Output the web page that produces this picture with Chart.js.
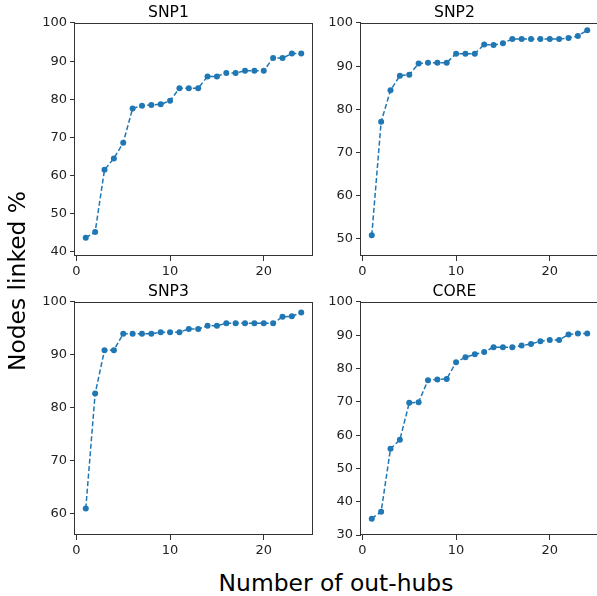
<!DOCTYPE html>
<html>
<head>
<meta charset="utf-8">
<script src="https://cdn.jsdelivr.net/npm/chart.js@4/dist/chart.umd.min.js"></script>
<style>
  html, body { margin:0; padding:0; background:#fff; }
  body { width:597px; height:596px; position:relative; overflow:hidden; font-family:'DejaVu Sans', sans-serif; color:#000; }
  canvas { position:absolute; }
  .ylab { position:absolute; width:300px; height:24px; line-height:24px; font-size:23.4px; text-align:center; white-space:nowrap;
          left:calc(16.7px - 150px); top:calc(280.5px - 12px); transform:rotate(-90deg); }
  .xlab { position:absolute; width:300px; line-height:24px; font-size:23.4px; text-align:center; white-space:nowrap; left:186px; top:571px; }
</style>
</head>
<body>
<canvas id="c-snp1" width="292" height="288"></canvas>
<canvas id="c-snp2" width="292" height="288"></canvas>
<canvas id="c-snp3" width="292" height="288"></canvas>
<canvas id="c-core" width="292" height="288"></canvas>
<div class="ylab">Nodes linked %</div>
<div class="xlab">Number of out-hubs</div>
<script>
'use strict';

// x positions (number of out-hubs)
const outHubs = [1,2,3,4,5,6,7,8,9,10,11,12,13,14,15,16,17,18,19,20,21,22,23,24];

// % of nodes linked
const snp1 = [43.7,45.2,61.5,64.5,68.6,77.6,78.3,78.5,78.7,79.6,82.9,82.9,82.9,86.0,86.0,86.9,86.9,87.5,87.5,87.5,90.8,90.8,92.0,92.0];
const snp2 = [50.8,77.1,84.4,87.8,88.0,90.6,90.8,90.8,90.8,92.9,92.9,92.9,95.0,94.9,95.3,96.3,96.3,96.3,96.3,96.3,96.3,96.5,97.0,98.3];
const snp3 = [61.0,82.7,90.9,90.9,94.0,94.0,94.0,94.0,94.3,94.3,94.3,94.9,94.9,95.5,95.5,96.0,96.0,96.0,96.0,96.0,96.0,97.2,97.3,98.0];
const core = [34.9,37.0,55.9,58.6,69.7,69.9,76.5,76.7,76.9,81.9,83.4,84.3,85.0,86.4,86.4,86.4,86.9,87.4,88.2,88.6,88.6,90.2,90.5,90.5];

// tick labels
const xTicks    = [0,10,20];
const snp1Ticks = [40,50,60,70,80,90,100];
const snp2Ticks = [50,60,70,80,90,100];
const snp3Ticks = [60,70,80,90,100];
const coreTicks = [30,40,50,60,70,80,90,100];

// axis limits
const xRange    = [-0.15, 25.15];
const snp1Range = [38.9, 100];
const snp2Range = [46.0, 100];
const snp3Range = [56.0, 100];
const coreRange = [30, 100];

(function () {
  const BLUE = '#1f77b4';
  const Y_W = 50, X_H = 30, TOP = 25, RIGHT = 5;

  const frame = {
    id: 'frame',
    afterDraw(chart) {
      const { ctx, chartArea: a } = chart;
      ctx.save();
      ctx.strokeStyle = '#333';
      ctx.lineWidth = 1;
      ctx.strokeRect(Math.round(a.left) - 0.5, Math.round(a.top) + 0.5,
                     Math.round(a.right - a.left) + 1, Math.round(a.bottom - a.top) - 1);
      ctx.restore();
    }
  };

  const tickFont = { family: "'DejaVu Sans', sans-serif", size: 13 };

  function panel(id, title, values, yTicks, yRange, left, top) {
    const canvas = document.getElementById(id);
    canvas.style.left = (left - Y_W) + 'px';
    canvas.style.top = (top - TOP) + 'px';
    new Chart(canvas, {
      type: 'line',
      data: {
        datasets: [{
          data: outHubs.map((x, i) => ({ x, y: values[i] })),
          borderColor: BLUE, backgroundColor: BLUE,
          borderWidth: 1.5, borderDash: [5, 2.5],
          pointRadius: 3, pointBorderWidth: 0, pointBackgroundColor: BLUE,
          tension: 0, fill: false,
        }],
      },
      options: {
        responsive: false, animation: false, devicePixelRatio: 1,
        layout: { padding: { top: 0, right: RIGHT, left: 0, bottom: 0 } },
        plugins: {
          legend: { display: false }, tooltip: { enabled: false },
          title: { display: true, text: title, color: '#000',
                   font: { family: "'DejaVu Sans', sans-serif", size: 15.6, weight: 'normal', lineHeight: 1.282 },
                   padding: { top: 5, bottom: 0 } },
        },
        scales: {
          x: {
            type: 'linear', min: xRange[0], max: xRange[1],
            afterBuildTicks: s => { s.ticks = xTicks.map(v => ({ value: v })); },
            afterFit: s => { s.height = X_H; },
            grid: { drawOnChartArea: false, drawTicks: true, tickLength: 5, tickColor: '#333', tickWidth: 1 },
            border: { display: false },
            ticks: { color: '#222', font: tickFont, padding: 3, maxRotation: 0, autoSkip: false },
          },
          y: {
            min: yRange[0], max: yRange[1],
            afterBuildTicks: s => { s.ticks = yTicks.map(v => ({ value: v })); },
            afterFit: s => { s.width = Y_W; },
            grid: { drawOnChartArea: false, drawTicks: true, tickLength: 5, tickColor: '#333', tickWidth: 1 },
            border: { display: false },
            ticks: { color: '#222', font: tickFont, padding: 3, autoSkip: false },
          },
        },
      },
      plugins: [frame],
    });
  }

  panel('c-snp1', 'SNP1', snp1, snp1Ticks, snp1Range, 75, 23);
  panel('c-snp2', 'SNP2', snp2, snp2Ticks, snp2Range, 361, 23);
  panel('c-snp3', 'SNP3', snp3, snp3Ticks, snp3Range, 75, 302);
  panel('c-core', 'CORE', core, coreTicks, coreRange, 361, 302);
})();
</script>
</body>
</html>
